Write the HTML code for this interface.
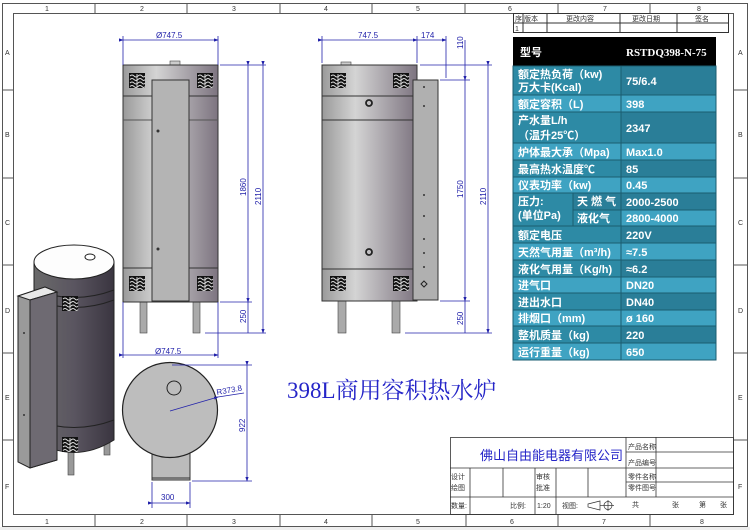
<!DOCTYPE html>
<html><head><meta charset="utf-8"><style>
html,body{margin:0;padding:0;background:#fff;}
svg{display:block;}
text{font-family:"Liberation Sans","Noto Sans CJK SC",sans-serif;}
.t{font-size:11px;font-weight:bold;fill:#fff;font-family:"Liberation Serif","Noto Sans CJK SC",serif;}
.d{font-size:8px;fill:#2222aa;font-family:"Liberation Sans",sans-serif;}
.s{font-size:7px;fill:#333;font-family:"Liberation Sans","Noto Sans CJK SC",sans-serif;}
</style></head><body>
<svg width="750" height="530" viewBox="0 0 750 530" xmlns="http://www.w3.org/2000/svg">
<defs>
<linearGradient id="g1" x1="0" x2="1"><stop offset="0" stop-color="#9a9a9a"/><stop offset="0.35" stop-color="#d4d4d4"/><stop offset="1" stop-color="#7d7480"/></linearGradient>
<linearGradient id="g3" x1="0" x2="1"><stop offset="0" stop-color="#6a6a6a"/><stop offset="0.5" stop-color="#5a5560"/><stop offset="1" stop-color="#3a3540"/></linearGradient>
<marker id="a" markerWidth="6" markerHeight="6" refX="5" refY="3" orient="auto"><path d="M0,1 L6,3 L0,5z" fill="#2222aa"/></marker>
<g id="vent"><rect x="0" y="0" width="16" height="15" fill="#111"/><g stroke="#ddd" stroke-width="0.9" fill="none"><path d="M1,3 q2,-2 4,0 t4,0 t4,0 t3,0"/><path d="M1,6.5 q2,-2 4,0 t4,0 t4,0 t3,0"/><path d="M1,10 q2,-2 4,0 t4,0 t4,0 t3,0"/><path d="M1,13.5 q2,-2 4,0 t4,0 t4,0 t3,0"/><line x1="8" y1="1" x2="8" y2="14"/></g></g>
</defs>
<rect x="0" y="527" width="750" height="3" fill="#eee"/>
<rect x="2.5" y="3.5" width="745" height="523" fill="none" stroke="#555"/>
<rect x="13.5" y="13.5" width="720" height="501" fill="none" stroke="#555"/>
<g stroke="#555"><line x1="95" y1="3" x2="95" y2="13"/><line x1="187" y1="3" x2="187" y2="13"/><line x1="280" y1="3" x2="280" y2="13"/><line x1="372" y1="3" x2="372" y2="13"/><line x1="465" y1="3" x2="465" y2="13"/><line x1="558" y1="3" x2="558" y2="13"/><line x1="650" y1="3" x2="650" y2="13"/>
<line x1="95" y1="514" x2="95" y2="527"/><line x1="187" y1="514" x2="187" y2="527"/><line x1="280" y1="514" x2="280" y2="527"/><line x1="372" y1="514" x2="372" y2="527"/><line x1="466" y1="514" x2="466" y2="527"/><line x1="558" y1="514" x2="558" y2="527"/><line x1="650" y1="514" x2="650" y2="527"/>
<line x1="2" y1="90" x2="13" y2="90"/><line x1="2" y1="178" x2="13" y2="178"/><line x1="2" y1="265" x2="13" y2="265"/><line x1="2" y1="353" x2="13" y2="353"/><line x1="2" y1="440" x2="13" y2="440"/>
<line x1="734" y1="90" x2="748" y2="90"/><line x1="734" y1="178" x2="748" y2="178"/><line x1="734" y1="265" x2="748" y2="265"/><line x1="734" y1="353" x2="748" y2="353"/><line x1="734" y1="440" x2="748" y2="440"/></g>
<g class="s" font-size="8"><text x="45" y="11">1</text><text x="140" y="11">2</text><text x="232" y="11">3</text><text x="324" y="11">4</text><text x="416" y="11">5</text><text x="508" y="11">6</text><text x="603" y="11">7</text><text x="697" y="11">8</text>
<text x="45" y="524">1</text><text x="140" y="524">2</text><text x="232" y="524">3</text><text x="324" y="524">4</text><text x="416" y="524">5</text><text x="510" y="524">6</text><text x="602" y="524">7</text><text x="700" y="524">8</text>
<text x="5" y="55">A</text><text x="5" y="137">B</text><text x="5" y="225">C</text><text x="5" y="313">D</text><text x="5" y="400">E</text><text x="5" y="489">F</text>
<text x="738" y="55">A</text><text x="738" y="137">B</text><text x="738" y="225">C</text><text x="738" y="313">D</text><text x="738" y="400">E</text><text x="738" y="489">F</text></g>

<g stroke="#333" fill="none"><rect x="513.5" y="13.5" width="215" height="19"/><line x1="513" y1="23" x2="729" y2="23"/>
<line x1="523" y1="13" x2="523" y2="33"/><line x1="547" y1="13" x2="547" y2="33"/><line x1="620" y1="13" x2="620" y2="33"/><line x1="677" y1="13" x2="677" y2="33"/></g>
<g class="s"><text x="515" y="21">序 版本</text><text x="566" y="21">更改内容</text><text x="632" y="21">更改日期</text><text x="695" y="21">签名</text><text x="515" y="31">1</text></g>

<rect x="513" y="37" width="203" height="29" fill="#000"/>
<text class="t" x="520" y="56" font-size="12">型号</text><text class="t" x="626" y="56">RSTDQ398-N-75</text>
<g stroke="#1b5d70" stroke-width="1">
<rect x="513" y="66" width="108" height="29" fill="#2d8aa5"/><rect x="621" y="66" width="95" height="29" fill="#2a7e98"/>
<rect x="513" y="95" width="108" height="17" fill="#3fa3c2"/><rect x="621" y="95" width="95" height="17" fill="#3fa3c2"/>
<rect x="513" y="112" width="108" height="31" fill="#2d8aa5"/><rect x="621" y="112" width="95" height="31" fill="#2a7e98"/>
<rect x="513" y="143" width="108" height="17" fill="#3fa3c2"/><rect x="621" y="143" width="95" height="17" fill="#3fa3c2"/>
<rect x="513" y="160" width="108" height="17" fill="#2d8aa5"/><rect x="621" y="160" width="95" height="17" fill="#2a7e98"/>
<rect x="513" y="177" width="108" height="16" fill="#3fa3c2"/><rect x="621" y="177" width="95" height="16" fill="#3fa3c2"/>
<rect x="513" y="193" width="60" height="33" fill="#2d8aa5"/><rect x="573" y="193" width="48" height="17" fill="#2a7e98"/><rect x="573" y="210" width="48" height="16" fill="#2d8aa5"/><rect x="621" y="193" width="95" height="17" fill="#2a7e98"/><rect x="621" y="210" width="95" height="16" fill="#3fa3c2"/>
<rect x="513" y="226" width="108" height="17" fill="#2d8aa5"/><rect x="621" y="226" width="95" height="17" fill="#2a7e98"/>
<rect x="513" y="243" width="108" height="17" fill="#3fa3c2"/><rect x="621" y="243" width="95" height="17" fill="#3fa3c2"/>
<rect x="513" y="260" width="108" height="17" fill="#2d8aa5"/><rect x="621" y="260" width="95" height="17" fill="#2a7e98"/>
<rect x="513" y="277" width="108" height="16" fill="#3fa3c2"/><rect x="621" y="277" width="95" height="16" fill="#3fa3c2"/>
<rect x="513" y="293" width="108" height="17" fill="#2d8aa5"/><rect x="621" y="293" width="95" height="17" fill="#2a7e98"/>
<rect x="513" y="310" width="108" height="16" fill="#3fa3c2"/><rect x="621" y="310" width="95" height="16" fill="#3fa3c2"/>
<rect x="513" y="326" width="108" height="17" fill="#2d8aa5"/><rect x="621" y="326" width="95" height="17" fill="#2a7e98"/>
<rect x="513" y="343" width="108" height="17" fill="#3fa3c2"/><rect x="621" y="343" width="95" height="17" fill="#3fa3c2"/>
</g>
<g class="t">
<text x="518" y="78">额定热负荷（kw)</text><text x="518" y="91">万大卡(Kcal)</text><text x="626" y="85">75/6.4</text>
<text x="518" y="108">额定容积（L)</text><text x="626" y="108">398</text>
<text x="518" y="124">产水量L/h</text><text x="518" y="139">（温升25℃）</text><text x="626" y="132">2347</text>
<text x="518" y="156">炉体最大承（Mpa)</text><text x="626" y="156">Max1.0</text>
<text x="518" y="173">最高热水温度℃</text><text x="626" y="173">85</text>
<text x="518" y="189">仪表功率（kw)</text><text x="626" y="189">0.45</text>
<text x="518" y="205">压力:</text><text x="518" y="219">(单位Pa)</text><text x="577" y="205">天 燃 气</text><text x="577" y="222">液化气</text>
<text x="626" y="206">2000-2500</text><text x="626" y="222">2800-4000</text>
<text x="518" y="239">额定电压</text><text x="626" y="239">220V</text>
<text x="518" y="256">天然气用量（m³/h)</text><text x="626" y="256">≈7.5</text>
<text x="518" y="273">液化气用量（Kg/h)</text><text x="626" y="273">≈6.2</text>
<text x="518" y="289">进气口</text><text x="626" y="289">DN20</text>
<text x="518" y="306">进出水口</text><text x="626" y="306">DN40</text>
<text x="518" y="322">排烟口（mm)</text><text x="626" y="322">ø 160</text>
<text x="518" y="339">整机质量（kg)</text><text x="626" y="339">220</text>
<text x="518" y="356">运行重量（kg)</text><text x="626" y="356">650</text>
</g>

<rect x="140" y="302" width="7" height="31" fill="#aaa" stroke="#444" stroke-width=".6"/><rect x="193" y="302" width="7" height="31" fill="#aaa" stroke="#444" stroke-width=".6"/>
<rect x="170" y="61" width="10" height="5" fill="#ccc" stroke="#444" stroke-width=".6"/>
<rect x="123" y="65" width="95" height="237" fill="url(#g1)" stroke="#333" stroke-width="1"/>
<line x1="123" y1="96" x2="218" y2="96" stroke="#333"/><line x1="123" y1="120" x2="218" y2="120" stroke="#555"/><line x1="123" y1="268" x2="218" y2="268" stroke="#333"/>
<rect x="152" y="80" width="37" height="221" fill="#b4b4b4" stroke="#333"/>
<circle cx="158" cy="131" r="1.5" fill="#333"/><circle cx="158" cy="249" r="1.5" fill="#333"/>
<use href="#vent" x="129" y="73"/><use href="#vent" x="197" y="73"/><use href="#vent" x="129" y="276"/><use href="#vent" x="197" y="276"/>
<g stroke="#2222aa" stroke-width=".8" fill="none">
<line x1="123" y1="65" x2="123" y2="36"/><line x1="218" y1="65" x2="218" y2="36"/><line x1="123" y1="40" x2="218" y2="40" marker-start="url(#a)" marker-end="url(#a)"/>
<line x1="123" y1="302" x2="123" y2="358"/><line x1="218" y1="302" x2="218" y2="358"/><line x1="123" y1="355" x2="218" y2="355" marker-start="url(#a)" marker-end="url(#a)"/>
<line x1="220" y1="65" x2="266" y2="65"/><line x1="220" y1="302" x2="252" y2="302"/><line x1="205" y1="333" x2="266" y2="333"/>
<line x1="248" y1="65" x2="248" y2="302" marker-start="url(#a)" marker-end="url(#a)"/><line x1="248" y1="302" x2="248" y2="333"/>
<line x1="263" y1="65" x2="263" y2="333" marker-start="url(#a)" marker-end="url(#a)"/></g>
<g class="d"><text x="156" y="38">Ø747.5</text><text x="155" y="354">Ø747.5</text>
<text transform="translate(246,196) rotate(-90)">1860</text><text transform="translate(261,205) rotate(-90)">2110</text><text transform="translate(246,323) rotate(-90)">250</text></g>

<rect x="338" y="301" width="8" height="32" fill="#aaa" stroke="#444" stroke-width=".6"/><rect x="392" y="301" width="8" height="32" fill="#aaa" stroke="#444" stroke-width=".6"/>
<rect x="341" y="62" width="10" height="4" fill="#ccc" stroke="#444" stroke-width=".6"/>
<rect x="322" y="65" width="95" height="236" fill="url(#g1)" stroke="#333"/>
<line x1="322" y1="96" x2="413" y2="96" stroke="#333"/><line x1="322" y1="120" x2="413" y2="120" stroke="#333"/><line x1="322" y1="269" x2="413" y2="269" stroke="#333"/>
<rect x="413" y="80" width="25" height="220" fill="#b0b0b0" stroke="#333"/>
<circle cx="369" cy="103" r="3" fill="none" stroke="#222" stroke-width="1.8"/><circle cx="369" cy="252" r="3" fill="none" stroke="#222" stroke-width="1.8"/>
<g fill="#333"><circle cx="424" cy="87" r="1"/><circle cx="424" cy="106" r="1"/><circle cx="424" cy="195" r="1"/><circle cx="424" cy="216" r="1"/><circle cx="424" cy="239" r="1"/><circle cx="424" cy="253" r="1"/><circle cx="424" cy="267" r="1"/></g>
<path d="M424,281 l3,3 l-3,3 l-3,-3z" fill="none" stroke="#222"/>
<use href="#vent" x="330" y="73"/><use href="#vent" x="393" y="73"/><use href="#vent" x="330" y="276"/><use href="#vent" x="393" y="276"/>
<g stroke="#2222aa" stroke-width=".8" fill="none">
<line x1="322" y1="63" x2="322" y2="36"/><line x1="417" y1="63" x2="417" y2="36"/><line x1="446" y1="78" x2="446" y2="36"/>
<line x1="322" y1="40" x2="417" y2="40" marker-start="url(#a)" marker-end="url(#a)"/><line x1="417" y1="40" x2="446" y2="40" marker-end="url(#a)"/>
<line x1="420" y1="65" x2="492" y2="65"/><line x1="440" y1="80" x2="470" y2="80"/><line x1="440" y1="301" x2="470" y2="301"/><line x1="405" y1="333" x2="492" y2="333"/>
<line x1="465" y1="40" x2="465" y2="80"/><line x1="465" y1="80" x2="465" y2="301" marker-start="url(#a)" marker-end="url(#a)"/><line x1="465" y1="301" x2="465" y2="333"/>
<line x1="488" y1="65" x2="488" y2="333" marker-start="url(#a)" marker-end="url(#a)"/></g>
<g class="d"><text x="358" y="38">747.5</text><text x="421" y="38">174</text>
<text transform="translate(463,49) rotate(-90)">110</text><text transform="translate(463,198) rotate(-90)">1750</text><text transform="translate(486,205) rotate(-90)">2110</text><text transform="translate(463,325) rotate(-90)">250</text></g>

<rect x="152" y="440" width="38" height="40" fill="#bbb" stroke="#333"/><line x1="152" y1="478" x2="190" y2="478" stroke="#333"/>
<circle cx="170" cy="410" r="47.5" fill="#bdbdbd" stroke="#222" stroke-width="1.2"/>
<circle cx="174" cy="388" r="7" fill="#bdbdbd" stroke="#222"/>
<g stroke="#2222aa" stroke-width=".8" fill="none">
<line x1="170" y1="411" x2="218" y2="397" marker-end="url(#a)"/><line x1="218" y1="397" x2="244" y2="393"/>
<line x1="172" y1="365" x2="252" y2="365"/><line x1="192" y1="481" x2="252" y2="481"/><line x1="247" y1="365" x2="247" y2="481" marker-start="url(#a)" marker-end="url(#a)"/>
<line x1="152" y1="482" x2="152" y2="508"/><line x1="190" y1="482" x2="190" y2="508"/><line x1="152" y1="503" x2="190" y2="503" marker-start="url(#a)" marker-end="url(#a)"/></g>
<g class="d"><text x="217" y="395" transform="rotate(-10,217,395)">R373.8</text><text transform="translate(245,432) rotate(-90)">922</text><text x="161" y="500">300</text></g>

<rect x="68" y="450" width="6" height="25" fill="#999" stroke="#444" stroke-width=".6"/><rect x="104" y="440" width="6" height="15" fill="#999" stroke="#444" stroke-width=".6"/>
<path d="M34,262 L34,440 Q74,465 114,440 L114,262z" fill="url(#g3)" stroke="#222"/>
<path d="M34,290 Q74,305 114,290 M34,300 Q74,315 114,300 M34,420 Q74,435 114,420" fill="none" stroke="#222"/>
<ellipse cx="74" cy="262" rx="40" ry="17" fill="#fdfdfd" stroke="#222"/>
<ellipse cx="90" cy="257" rx="5" ry="3" fill="#fff" stroke="#222"/>
<use href="#vent" x="62" y="296"/><use href="#vent" x="62" y="437"/>
<path d="M18,296 L45,287 L57,292 L57,460 L30,468 L18,462z" fill="#9a9a9a" stroke="#222"/>
<path d="M18,296 L45,287 L57,292 L30,300z" fill="#e8e8e8" stroke="#222"/>
<path d="M30,300 L57,292 L57,460 L30,468z" fill="#6e6a72" stroke="#222"/>
<circle cx="24" cy="333" r="1" fill="#333"/><circle cx="24" cy="415" r="1" fill="#333"/>

<text x="287" y="398" style="font-family:'Liberation Serif','Noto Serif CJK SC',serif;font-size:23px;fill:#2525c8">398L商用容积热水炉</text>

<g stroke="#333" fill="none" stroke-width=".8">
<rect x="450.5" y="437.5" width="283" height="77"/>
<line x1="450" y1="468" x2="626" y2="468"/><line x1="450" y1="497" x2="734" y2="497"/>
<line x1="626" y1="437" x2="626" y2="497"/><line x1="656" y1="437" x2="656" y2="497"/>
<line x1="626" y1="452" x2="734" y2="452"/><line x1="626" y1="468" x2="734" y2="468"/><line x1="626" y1="482" x2="734" y2="482"/>
<line x1="470" y1="468" x2="470" y2="514"/><line x1="503" y1="468" x2="503" y2="497"/><line x1="535" y1="468" x2="535" y2="514"/><line x1="556" y1="468" x2="556" y2="514"/><line x1="588" y1="468" x2="588" y2="497"/>
</g>
<text x="480" y="460" font-size="13" fill="#2525c8">佛山自由能电器有限公司</text>
<g class="s"><text x="628" y="449">产品名称</text><text x="628" y="465">产品编号</text><text x="628" y="479">零件名称</text><text x="628" y="490">零件图号</text>
<text x="451" y="479">设计</text><text x="451" y="490">绘图</text><text x="536" y="479">审核</text><text x="536" y="490">批准</text>
<text x="451" y="508">数量:</text><text x="510" y="508">比例:</text><text x="537" y="508">1:20</text><text x="562" y="508">视图:</text>
<text x="632" y="507">共</text><text x="672" y="507">张</text><text x="699" y="507">第</text><text x="720" y="507">张</text></g>
<g stroke="#333" fill="none" stroke-width=".7"><path d="M588,504 L600,501 L600,510 L588,507z"/><circle cx="608" cy="505.5" r="4"/><line x1="600" y1="505.5" x2="614" y2="505.5"/><line x1="608" y1="500" x2="608" y2="511"/></g>
</svg>
</body></html>
